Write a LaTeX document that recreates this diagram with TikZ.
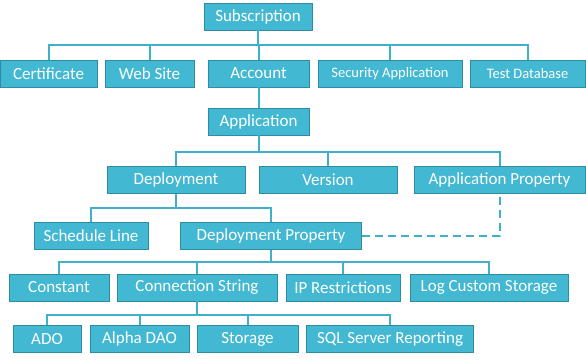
\documentclass[tikz,border=0pt]{standalone}
\usepackage{fontspec}
\setmainfont{Carlito}
\usepackage{tikz}
\definecolor{boxfill}{RGB}{66,184,210}
\definecolor{boxline}{RGB}{46,140,165}
\definecolor{linkcol}{RGB}{62,176,202}

\tikzset{
    box/.style={draw=boxline,fill=boxfill,text=white,line width=0.8pt,
        inner sep=0pt,minimum height=27pt,font=\fontsize{17}{19}\selectfont},
    smallbox/.style={box,font=\fontsize{14.5}{16}\selectfont},
    link/.style={draw=linkcol,line width=2pt},
}

\begin{document}
\begin{tikzpicture}[x=1pt,y=-1pt]
    \fill[white] (0,0) rectangle (586,360);
    \useasboundingbox (0,0) rectangle (586,360);

    % Bus heights
    \coordinate (b1) at (0,45);
    \coordinate (b2) at (0,152);
    \coordinate (b3) at (0,208);
    \coordinate (b4) at (0,262);
    \coordinate (b5) at (0,315);

    % Top
    \node[box,minimum width=108pt] (sub) at (258,16.5) {Subscription};

    % Level 1
    \node[box,minimum width=97pt] (cert) at (48.5,73.5) {Certificate};
    \node[box,minimum width=89pt] (web) at (149.5,73.5) {Web Site};
    \node[box,minimum width=101pt] (acc) at (258.5,73.5) {Account};
    \node[smallbox,minimum width=144pt] (sec) at (390,73.5) {Security Application};
    \node[smallbox,minimum width=115pt] (test) at (527.5,73.5) {Test Database};

    % Level 2
    \node[box,minimum width=101pt] (app) at (258.5,121.5) {Application};

    % Level 3
    \node[box,minimum width=138pt] (dep) at (176,180) {Deployment};
    \node[box,minimum width=138pt] (ver) at (328,180) {Version};
    \node[box,minimum width=171pt] (aprop) at (499.5,180) {Application Property};

    % Level 4
    \node[box,minimum width=114pt] (sched) at (91,236) {Schedule Line};
    \node[box,minimum width=181pt] (dprop) at (271,236) {Deployment Property};

    % Level 5
    \node[box,minimum width=100pt] (const) at (59,287.5) {Constant};
    \node[box,minimum width=160pt] (conn) at (197,287.5) {Connection String};
    \node[box,minimum width=114pt] (ip) at (343,287.5) {IP Restrictions};
    \node[box,minimum width=158pt] (log) at (489,287.5) {Log Custom Storage};

    % Level 6
    \node[box,minimum width=68pt] (ado) at (47,339) {ADO};
    \node[box,minimum width=99pt] (alpha) at (139.5,339) {Alpha DAO};
    \node[box,minimum width=101pt] (stor) at (247.5,339) {Storage};
    \node[box,minimum width=167pt] (sql) at (390,339) {SQL Server Reporting};

    % Links
    \foreach \n in {cert,web,acc,sec,test}
        \draw[link] (sub.south) |- (b1 -| \n) -- (\n.north);
    \draw[link] (acc.south) -- (app.north);
    \foreach \n in {dep,ver,aprop}
        \draw[link] (app.south) |- (b2 -| \n) -- (\n.north);
    \foreach \n in {sched,dprop}
        \draw[link] (dep.south) |- (b3 -| \n) -- (\n.north);
    \foreach \n in {const,conn,ip,log}
        \draw[link] (dprop.south) |- (b4 -| \n) -- (\n.north);
    \foreach \n in {ado,alpha,stor,sql}
        \draw[link] (conn.south) |- (b5 -| \n) -- (\n.north);

    % Dashed link
    \draw[link,dash pattern=on 8pt off 5pt] (dprop.east) -| (aprop.south);
\end{tikzpicture}
\end{document}
